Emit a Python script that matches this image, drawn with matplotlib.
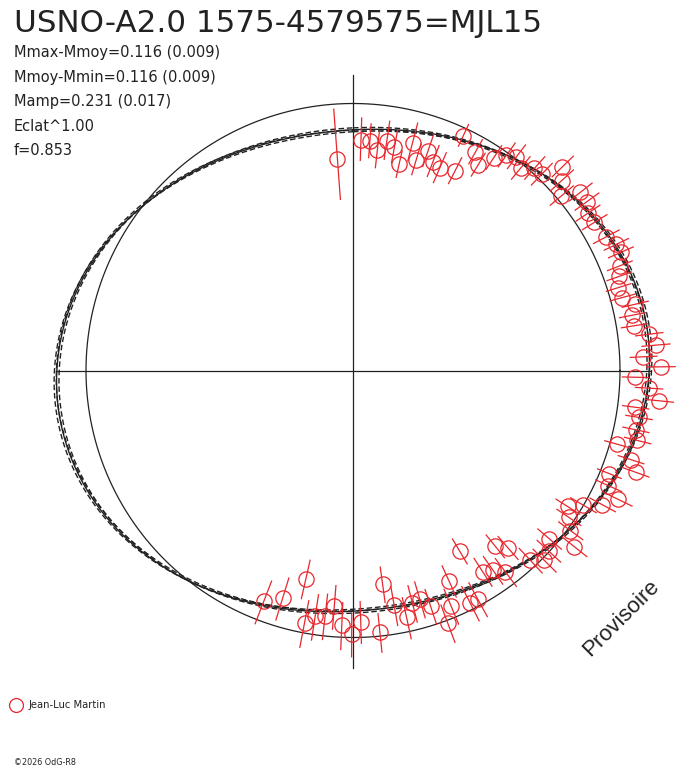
import numpy as np
import matplotlib
matplotlib.use("Agg")
import matplotlib.pyplot as plt

# phase (0 at top, clockwise), magnitude offset from mean (positive = brighter), error (mag)
phase = [-0.0117, 0.0055, 0.0117, 0.0175, 0.0233, 0.0292, 0.0350, 0.0407, 0.0464, 0.0524,
         0.0582, 0.0644, 0.0752, 0.0699, 0.0813, 0.0870, 0.0930, 0.0986, 0.1039, 0.1101,
         0.1164, 0.1219, 0.1272, 0.1325, 0.1390, 0.1442, 0.1505, 0.1561, 0.1624, 0.1727,
         0.1789, 0.1839, 0.1905, 0.1959, 0.2018, 0.2079, 0.2133, 0.2189, 0.2249, 0.2306,
         0.2367, 0.2425, 0.2481, 0.2538, 0.2595, 0.2657, 0.2706, 0.2759, 0.2829, 0.2884,
         0.2933, 0.2994, 0.3050, 0.3109, 0.3174, 0.3220, 0.3286, 0.3342, 0.3399, 0.3451,
         0.3510, 0.3570, 0.3628, 0.3686, 0.3744, 0.3804, 0.3857, 0.3917, 0.4151, 0.4089,
         0.4027, 0.3969, 0.4319, 0.4205, 0.4257, 0.4372, 0.4429, 0.4494, 0.4548, 0.4602,
         0.4660, 0.4724, 0.4781, 0.4837, 0.4951, 0.5008, 0.5070, 0.5126, 0.5180, 0.5243,
         0.5302, 0.5354, 0.5477, 0.5587]
dmag = [-0.250, -0.160, -0.163, -0.202, -0.153, -0.175, -0.255, -0.137, -0.210, -0.152,
        -0.192, -0.210, -0.191, -0.031, -0.070, -0.113, -0.050, -0.011, 0.007, -0.018,
        0.019, 0.020, 0.098, 0.059, 0.020, 0.085, 0.083, 0.061, 0.064, 0.075,
        0.096, 0.099, 0.076, 0.060, 0.044, 0.048, 0.088, 0.069, 0.069, 0.120,
        0.140, 0.092, 0.154, 0.060, 0.113, 0.153, 0.070, 0.088, 0.085, 0.100,
        0.027, 0.096, 0.128, 0.036, 0.052, 0.108, 0.064, -0.002, -0.054, -0.026,
        0.012, 0.062, -0.035, -0.004, 0.010, -0.030, -0.138, -0.182, -0.263, -0.118,
        -0.100, -0.060, -0.156, -0.027, -0.027, -0.049, 0.011, -0.079, -0.124, -0.115,
        -0.060, -0.124, -0.232, -0.016, -0.066, -0.014, -0.051, -0.131, -0.085, -0.077,
        -0.041, -0.244, -0.124, -0.082]
err = [0.23, 0.10, 0.08, 0.09, 0.09, 0.08, 0.07, 0.09, 0.08, 0.08,
       0.08, 0.08, 0.07, 0.05, 0.06, 0.06, 0.06, 0.06, 0.06, 0.06,
       0.06, 0.06, 0.055, 0.06, 0.06, 0.055, 0.055, 0.055, 0.055, 0.055,
       0.05, 0.05, 0.05, 0.05, 0.05, 0.05, 0.05, 0.05, 0.05, 0.05,
       0.05, 0.05, 0.05, 0.05, 0.05, 0.05, 0.05, 0.05, 0.05, 0.05,
       0.05, 0.05, 0.05, 0.05, 0.055, 0.055, 0.055, 0.06, 0.06, 0.06,
       0.06, 0.06, 0.065, 0.065, 0.065, 0.07, 0.07, 0.07, 0.075, 0.075,
       0.075, 0.075, 0.08, 0.08, 0.08, 0.08, 0.08, 0.08, 0.085, 0.085,
       0.09, 0.09, 0.09, 0.08, 0.09, 0.09, 0.10, 0.10, 0.10, 0.10,
       0.10, 0.10, 0.10, 0.10]

# model: double wave, amplitude and its uncertainty
amp = 0.116
amp_err = 0.009
phase_max = 0.2306

title = "USNO-A2.0 1575-4579575=MJL15"
info = ["Mmax-Mmoy=0.116 (0.009)", "Mmoy-Mmin=0.116 (0.009)",
        "Mamp=0.231 (0.017)", "Eclat^1.00", "f=0.853"]
observer = "Jean-Luc Martin"

R0 = 267.0
RED = "#e8262c"
INK = "#222222"


def to_xy(ph, dm):
    r = R0 * 10 ** (0.4 * np.asarray(dm))
    th = np.radians(90.0 - 360.0 * np.asarray(ph))
    return r * np.cos(th), r * np.sin(th)


fig = plt.figure(figsize=(6.88, 7.68), dpi=100)
ax = fig.add_axes([0, 0, 1, 1])
ax.set_xlim(-353, 335)
ax.set_ylim(-397.5, 370.5)
ax.axis("off")

# mean circle and axes
t = np.linspace(0, 2 * np.pi, 720)
ax.plot(R0 * np.cos(t), R0 * np.sin(t), color=INK, lw=0.9)
ax.plot([-297, 297], [0, 0], color=INK, lw=0.9)
ax.plot([0, 0], [-297, 296], color=INK, lw=0.9)

# model curves
ph = np.linspace(0, 1, 1000)
x, y = to_xy(ph, amp * np.cos(4 * np.pi * (ph - phase_max)))
ax.plot(x, y, color=INK, lw=1.0)
for a, p0 in [(amp + amp_err, phase_max), (amp - amp_err, phase_max), (amp, phase_max + 0.005)]:
    x, y = to_xy(ph, a * np.cos(4 * np.pi * (ph - p0)))
    ax.plot(x, y, color=INK, lw=1.0, ls=(0, (4, 2)))

# data with radial error bars
ph_a = np.array(phase)
dm_a = np.array(dmag)
er_a = np.array(err)
x1, y1 = to_xy(ph_a, dm_a - er_a)
x2, y2 = to_xy(ph_a, dm_a + er_a)
for i in range(len(ph_a)):
    ax.plot([x1[i], x2[i]], [y1[i], y2[i]], color=RED, lw=0.9)
xd, yd = to_xy(ph_a, dm_a)
ax.plot(xd, yd, "o", ms=11, mfc="none", mec=RED, mew=0.9)

# texts
W, H = 688, 768
fig.text(14 / W, 1 - 32 / H, title, fontsize=22.3, color=INK,
         family="DejaVu Sans", va="baseline")
for k, line in enumerate(info):
    fig.text(14 / W, 1 - (57 + 24.6 * k) / H, line, fontsize=10.55, color=INK,
             family="DejaVu Sans", va="baseline")

fig.text(621 / W, 1 - 618 / H, "Provisoire", fontsize=16, color=INK,
         family="Liberation Sans", rotation=45, ha="center", va="center")

ax.plot([16 / W], [1 - 705 / H], "o", ms=10, mfc="none", mec=RED, mew=0.9,
        transform=fig.transFigure, clip_on=False)
fig.text(29 / W, 1 - 705 / H, observer, fontsize=7.2, color=INK,
         family="DejaVu Sans", va="center")
fig.text(14 / W, 1 - 765 / H, "\u00a92026 OdG-R8", fontsize=5.8, color=INK,
         family="DejaVu Sans", va="baseline")

fig.savefig("out.png", dpi=100)
